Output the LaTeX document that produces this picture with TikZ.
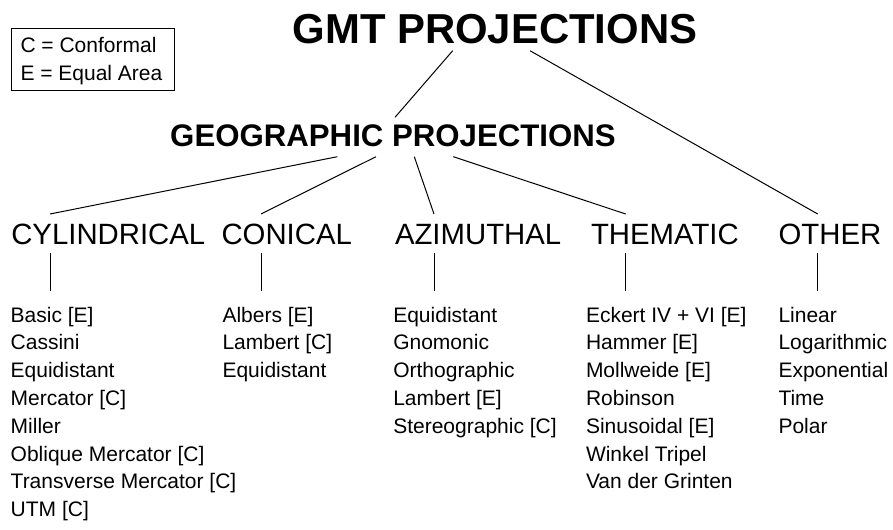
\documentclass[tikz,border=0pt]{standalone}
\usepackage{fontspec}
\setmainfont{Liberation Sans}
\usetikzlibrary{calc}
\begin{document}
\begin{tikzpicture}[x=0.75pt,y=-0.75pt,
  every node/.style={inner sep=0pt, outer sep=0pt},
  maintitle/.style={font=\bfseries\fontsize{31.4}{36}\selectfont, anchor=base},
  subtitle/.style={font=\bfseries\fontsize{23.4}{28}\selectfont, anchor=base},
  coltitle/.style={font=\fontsize{22}{26}\selectfont, anchor=base west},
  items/.style={font=\fontsize{15.75}{20.85}\selectfont, align=left, anchor=base west},
  legendtext/.style={font=\fontsize{15.75}{20.85}\selectfont, anchor=base west},
  legendbox/.style={draw=black, line width=0.75pt, anchor=north west, minimum width=163*0.75pt, minimum height=62*0.75pt},
  link/.style={draw=black, line width=0.75pt}]
\useasboundingbox (0,0) rectangle (893,529);

% legend
\node[legendbox] (legend) at (11,28) {};
\node[legendtext] (lc) at ($(legend.north west)+(9.5,24)$) {C = Conformal};
\node[legendtext] (le) at ($(legend.north west)+(9.5,52)$) {E = Equal Area};

% titles
\node[maintitle] (gmt) at (495,43.3) {GMT PROJECTIONS};
\node[subtitle] (geo) at (393,146.7) {GEOGRAPHIC PROJECTIONS};

% column titles
\node[coltitle] (cyl) at (11.3,244) {CYLINDRICAL};
\node[coltitle] (con) at (221.5,244) {CONICAL};
\node[coltitle] (azi) at (395,244) {AZIMUTHAL};
\node[coltitle] (the) at (591,244) {THEMATIC};
\node[coltitle] (oth) at (778.6,244) {OTHER};

% item lists (base anchor = baseline of the last line; first baseline at y=322, line pitch 27.8)
\node[items] (cylitems) at (10.7,{322+7*27.8}) {Basic [E]\\Cassini\\Equidistant\\Mercator [C]\\Miller\\Oblique Mercator [C]\\Transverse Mercator [C]\\UTM [C]};
\node[items] (conitems) at (222.5,{322+2*27.8}) {Albers [E]\\Lambert [C]\\Equidistant};
\node[items] (aziitems) at (393.3,{322+4*27.8}) {Equidistant\\Gnomonic\\Orthographic\\Lambert [E]\\Stereographic [C]};
\node[items] (theitems) at (586,{322+6*27.8}) {Eckert IV + VI [E]\\Hammer [E]\\Mollweide [E]\\Robinson\\Sinusoidal [E]\\Winkel Tripel\\Van der Grinten};
\node[items] (othitems) at (778.5,{322+4*27.8}) {Linear\\Logarithmic\\Exponential\\Time\\Polar};

% attachment points
\coordinate (gmtL) at (452.7,50.7);
\coordinate (gmtR) at (530,50.7);
\coordinate (geoT) at (395,117.3);
\coordinate (geoA) at (337.3,156.7);
\coordinate (geoB) at (376,156.7);
\coordinate (geoC) at (414.3,156.7);
\coordinate (geoD) at (453.3,156.7);
\foreach \n/\x in {cyl/50, con/261, azi/434, the/625.7, oth/817.7}{
  \coordinate (\n T) at (\x,214);
  \coordinate (\n U) at (\x,253.3);
  \coordinate (\n D) at (\x,290.7);
}

% connectors
\draw[link] (gmtL) -- (geoT);
\draw[link] (gmtR) -- (othT);
\draw[link] (geoA) -- (cylT);
\draw[link] (geoB) -- (conT);
\draw[link] (geoC) -- (aziT);
\draw[link] (geoD) -- (theT);
\foreach \n in {cyl,con,azi,the,oth}{
  \draw[link] (\n U) -- (\n D);
}
\end{tikzpicture}
\end{document}
